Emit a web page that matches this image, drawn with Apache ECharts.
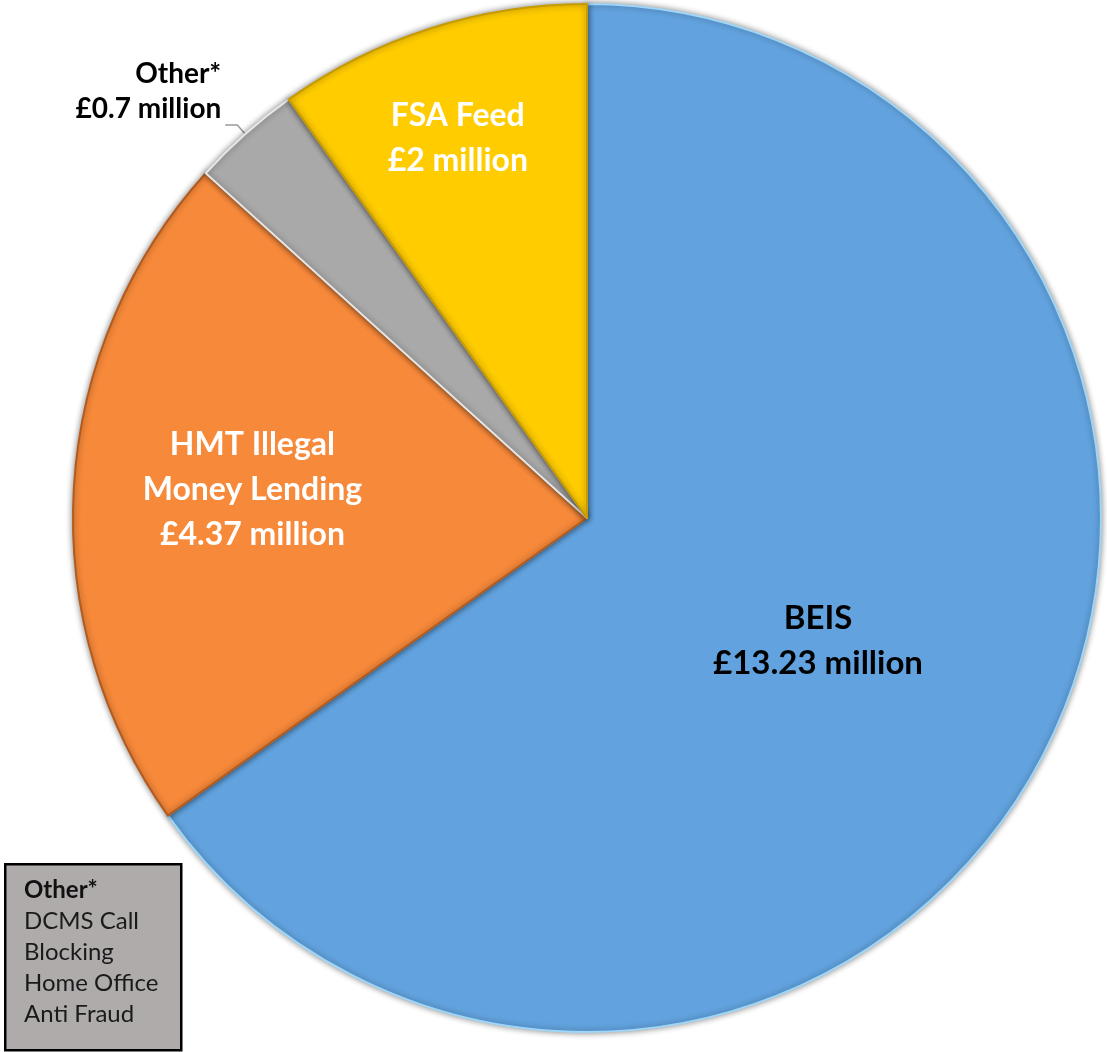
<!DOCTYPE html>
<html>
<head>
<meta charset="utf-8">
<script src="https://cdn.jsdelivr.net/npm/echarts@6/dist/echarts.min.js"></script>
<style>
  html, body { margin: 0; padding: 0; background: #fff; }
  #main { width: 1107px; height: 1052px; }
</style>
</head>
<body>
<div id="main"></div>
<script>
// slice data, clockwise from 12 o'clock
var names = ['BEIS', 'HMT Illegal\nMoney Lending', 'Other*', 'FSA Feed'];
var values = [13.23, 4.37, 0.7, 2];
var valueText = ['£13.23 million', '£4.37 million', '£0.7 million', '£2 million'];
var colors = ['#62a3df', '#f7893a', '#a9a9a9', '#ffcc00'];
var edgeColors = ['#9fd6f7', '#b45a1c', '#e6e6e6', '#c79a00'];
var boxLines = ['DCMS Call', 'Blocking', 'Home Office', 'Anti Fraud'];

// small nudges so the labels sit where the original has them
var nudge = [[0, 4], [-75, -13], [1, -34], [-50, -132]];

var myChart = echarts.init(document.getElementById('main'));

var data = names.map(function (n, i) {
    var item = {
        name: n,
        value: values[i],
        itemStyle: { color: colors[i], borderColor: edgeColors[i] }
    };
    if (i === 2) {
        item.label = {
            position: 'outside',
            color: '#000',
            fontSize: 28,
            lineHeight: 35,
            align: 'center'
        };
        item.labelLine = { show: true, length: 12, length2: 12, lineStyle: { color: '#999', width: 1.5 } };
    }
    return item;
});

var option = {
    backgroundColor: '#fff',
    animation: false,
    graphic: [{
        type: 'rect',
        left: 4,
        top: 863,
        shape: { width: 176, height: 186 },
        style: { fill: '#afabab', stroke: '#000', lineWidth: 2.5 },
        z: 10
    }, {
        type: 'text',
        left: 24,
        top: 875,
        style: {
            text: '{b|Other*}\n' + boxLines.join('\n'),
            rich: {
                b: { fontWeight: 'bold', fontSize: 24, fontFamily: 'Lato', fill: '#111', lineHeight: 31 }
            },
            fontSize: 24,
            lineHeight: 31,
            fontFamily: 'Lato',
            fill: '#1a1a1a'
        },
        z: 11
    }],
    series: [{
        name: 'Funding',
        type: 'pie',
        center: [587, 518],
        radius: [0, 514],
        startAngle: 90,
        clockwise: true,
        avoidLabelOverlap: false,
        itemStyle: {
            borderWidth: 2,
            shadowColor: 'rgba(0,0,0,0.45)',
            shadowBlur: 6
        },
        label: {
            show: true,
            position: 'inside',
            formatter: function (p) {
                return p.name + '\n' + valueText[p.dataIndex];
            },
            fontFamily: 'Lato',
            fontWeight: 'bold',
            fontSize: 32,
            lineHeight: 45,
            color: '#fff',
            align: 'center'
        },
        labelLine: { show: false },
        labelLayout: function (params) {
            var d = nudge[params.dataIndex];
            return { dx: d[0], dy: d[1] };
        },
        emphasis: { disabled: true },
        data: data
    }]
};

// BEIS label is black in the original
option.series[0].data[0].label = { color: '#000', fontSize: 33 };

myChart.setOption(option);
window.addEventListener('resize', function () {
    myChart.resize();
});
</script>
</body>
</html>
